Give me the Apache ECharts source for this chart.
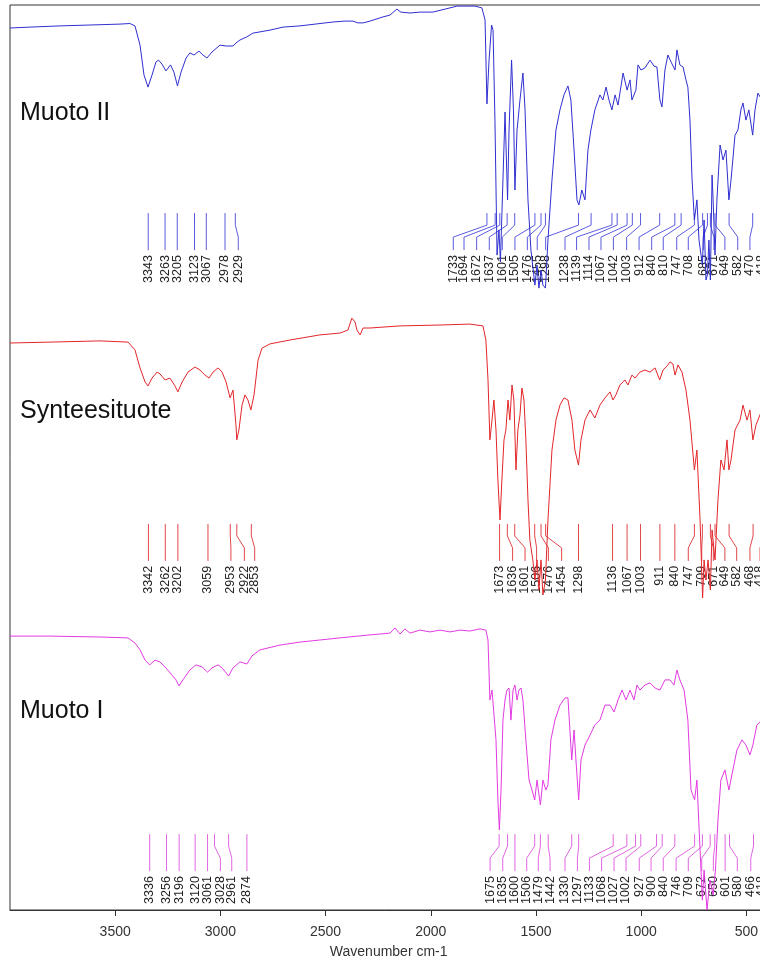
<!DOCTYPE html>
<html><head><meta charset="utf-8">
<script src="https://cdn.jsdelivr.net/npm/echarts@6/dist/echarts.min.js"></script>
<style>html,body{margin:0;padding:0;background:#fff}#c{width:760px;height:963px}</style>
</head><body><div id="c"></div>
<script>
// x tick labels
const xTicks = [500, 1000, 1500, 2000, 2500, 3000, 3500];
const panelNames = ['Muoto II', 'Synteesituote', 'Muoto I'];

// spectra: [wavenumber, transmittance-like value]
const muotoII = [[4000,94.0],[3905,94.3],[3762,94.7],[3620,95.0],[3477,95.3],[3430,95.5],[3406,94.7],[3382,88.3],[3363,78.3],[3344,74.3],[3325,78.3],[3306,82.7],[3294,83.3],[3278,82.0],[3259,79.7],[3237,81.7],[3221,79.3],[3204,74.7],[3187,79.3],[3163,84.0],[3145,85.7],[3125,85.0],[3102,86.3],[3083,85.0],[3064,84.0],[3040,86.0],[3002,88.3],[2973,88.0],[2940,88.0],[2926,89.0],[2907,90.0],[2876,91.0],[2845,92.3],[2764,93.3],[2702,94.3],[2622,94.7],[2465,96.0],[2408,96.3],[2370,96.3],[2346,95.7],[2322,95.7],[2289,96.3],[2227,97.7],[2194,98.3],[2161,100.3],[2142,99.3],[2099,99.0],[2051,99.3],[1990,99.3],[1932,100.3],[1875,101.3],[1790,101.3],[1757,100.7],[1742,96.7],[1733,68.7],[1723,83.3],[1711,95.0],[1704,93.3],[1695,63.3],[1685,18.3],[1676,26.7],[1669,16.0],[1657,43.3],[1647,66.0],[1635,36.7],[1628,60.0],[1616,83.3],[1607,66.7],[1600,40.0],[1590,60.0],[1576,70.0],[1562,79.0],[1552,66.7],[1538,36.7],[1524,20.0],[1505,8.3],[1495,15.0],[1486,7.3],[1476,13.3],[1467,8.3],[1455,7.3],[1443,23.3],[1424,43.3],[1405,60.0],[1386,66.7],[1367,71.7],[1348,74.7],[1334,70.0],[1319,53.3],[1305,36.7],[1296,35.0],[1282,40.0],[1267,36.7],[1253,53.3],[1239,60.0],[1220,66.7],[1196,71.7],[1182,70.0],[1167,74.3],[1153,70.0],[1139,66.7],[1124,71.7],[1110,68.3],[1086,79.0],[1067,73.3],[1053,76.7],[1044,70.0],[1025,73.3],[1015,81.7],[1001,80.0],[982,80.7],[958,83.3],[939,81.3],[925,81.0],[911,70.0],[901,67.7],[887,80.0],[873,85.0],[858,82.7],[849,83.3],[839,80.0],[830,86.7],[816,81.7],[801,81.0],[787,76.7],[778,74.3],[768,63.3],[758,43.3],[747,30.0],[735,36.7],[725,23.3],[709,15.0],[701,30.0],[692,10.0],[685,11.7],[678,23.3],[671,10.0],[663,45.0],[658,36.7],[649,18.3],[640,36.7],[625,55.0],[611,50.0],[597,53.3],[583,36.7],[573,43.3],[554,58.3],[540,60.0],[526,66.7],[516,69.0],[502,63.3],[488,66.7],[470,58.3],[459,66.7],[445,72.3],[426,70.0]];

const synteesituote = [[4000,89.0],[3810,89.3],[3572,89.7],[3439,89.3],[3406,86.7],[3382,80.7],[3358,76.0],[3344,74.7],[3325,77.3],[3301,79.3],[3287,78.7],[3263,76.7],[3240,77.3],[3216,74.7],[3202,72.7],[3182,76.0],[3154,79.3],[3121,81.0],[3097,80.0],[3073,78.3],[3054,77.3],[3035,79.3],[3011,80.7],[2992,79.3],[2973,76.0],[2954,70.7],[2940,73.3],[2926,61.7],[2922,56.7],[2912,60.0],[2897,68.3],[2883,71.7],[2869,70.0],[2855,66.7],[2840,71.7],[2821,83.3],[2802,87.3],[2764,88.7],[2669,90.0],[2527,91.7],[2432,92.3],[2394,93.3],[2375,97.3],[2360,96.0],[2351,93.3],[2336,91.7],[2322,94.0],[2289,94.0],[2146,94.7],[1956,95.0],[1814,95.3],[1752,94.7],[1738,90.0],[1728,76.7],[1719,56.7],[1709,63.3],[1700,70.0],[1690,60.0],[1681,43.3],[1671,30.0],[1662,43.3],[1652,56.7],[1643,60.0],[1633,70.0],[1624,63.3],[1614,75.0],[1605,70.0],[1595,46.7],[1586,60.0],[1576,65.0],[1567,74.0],[1557,70.0],[1548,56.7],[1538,36.7],[1529,23.3],[1515,16.7],[1505,10.0],[1495,16.7],[1486,6.7],[1476,16.7],[1467,5.0],[1455,10.0],[1443,30.0],[1424,53.3],[1405,63.3],[1386,68.3],[1367,70.7],[1348,70.0],[1329,63.3],[1315,53.3],[1298,48.3],[1286,56.7],[1267,63.3],[1243,66.7],[1220,64.0],[1196,68.3],[1172,70.7],[1148,72.7],[1134,70.0],[1120,71.7],[1101,75.0],[1077,76.7],[1063,75.0],[1044,78.3],[1029,77.3],[1006,79.3],[982,80.0],[958,79.3],[934,80.7],[912,76.7],[896,80.0],[877,81.3],[863,82.7],[849,82.0],[839,78.3],[825,81.7],[806,79.3],[787,73.3],[768,63.3],[747,46.7],[735,53.3],[720,30.0],[708,4.0],[701,16.7],[692,10.0],[682,16.7],[671,6.7],[663,26.7],[649,16.7],[635,36.7],[621,50.0],[606,46.7],[592,56.7],[583,46.7],[573,50.0],[554,60.0],[530,63.3],[516,68.3],[497,63.3],[483,66.7],[469,56.7],[454,61.7],[426,66.7]];

const muotoI = [[4000,91.3],[3810,91.3],[3572,91.0],[3439,90.7],[3406,89.0],[3382,86.7],[3358,83.3],[3336,81.7],[3311,83.3],[3287,82.7],[3259,80.7],[3230,78.3],[3211,76.7],[3197,74.7],[3178,76.7],[3145,80.0],[3116,81.7],[3087,81.0],[3061,79.3],[3040,80.7],[3011,81.7],[2992,80.7],[2961,78.0],[2940,80.7],[2907,82.7],[2874,82.0],[2850,84.7],[2812,86.7],[2717,88.3],[2622,89.3],[2432,90.7],[2289,91.7],[2194,92.3],[2170,94.0],[2146,92.0],[2123,93.7],[2099,92.3],[2051,93.3],[2004,92.7],[1956,93.3],[1909,92.7],[1861,93.3],[1814,93.0],[1766,93.7],[1738,93.3],[1728,90.0],[1719,70.0],[1709,73.3],[1700,73.3],[1690,56.7],[1681,36.7],[1674,26.7],[1666,40.0],[1657,63.3],[1647,70.0],[1638,73.3],[1628,74.0],[1619,63.3],[1609,73.3],[1600,75.0],[1590,70.0],[1581,73.3],[1571,74.0],[1562,70.0],[1548,56.7],[1533,43.3],[1519,40.0],[1506,36.7],[1495,43.3],[1479,35.0],[1467,43.3],[1453,40.0],[1443,41.7],[1429,56.7],[1410,63.3],[1386,68.3],[1362,70.7],[1348,70.7],[1330,50.0],[1319,60.0],[1310,50.0],[1297,36.7],[1286,50.0],[1267,55.0],[1243,58.3],[1220,61.7],[1196,63.3],[1172,68.3],[1148,68.3],[1129,66.0],[1110,70.0],[1091,73.3],[1072,70.0],[1053,73.3],[1034,70.0],[1020,75.0],[1006,73.3],[982,75.0],[958,75.7],[934,74.0],[911,73.3],[887,76.7],[863,76.7],[844,75.0],[830,80.0],[816,76.7],[796,73.3],[778,63.3],[763,40.0],[746,36.7],[735,43.3],[720,20.0],[709,3.3],[701,13.3],[687,0.0],[673,10.0],[658,5.0],[647,13.3],[635,30.0],[621,43.3],[602,46.7],[583,40.0],[564,46.7],[545,53.3],[521,56.7],[502,55.0],[483,51.7],[469,55.0],[450,61.7],[426,63.3]];

// peak picks: peak wavenumber and the wavenumber where its label sits
const peaksII = [3343,3263,3205,3123,3067,2978,2929,1733,1694,1672,1637,1601,1505,1476,1455,1298,1238,1139,1114,1067,1042,1003,912,840,810,747,708,685,671,649,582,470,418];
const labelsII = [3343,3263,3205,3123,3067,2978,2915,1893,1842,1782,1722,1660,1600,1541,1494,1454,1362,1307,1248,1191,1132,1069,1010,950,895,831,776,705,654,602,541,483,426];
const peaksS = [3342,3262,3202,3059,2953,2922,2853,1673,1636,1601,1506,1476,1454,1298,1136,1067,1003,911,840,747,709,671,649,582,468,418];
const labelsS = [3342,3262,3202,3059,2950,2886,2837,1673,1611,1552,1497,1441,1378,1298,1136,1067,1003,911,840,776,712,657,602,546,483,435];
const peaksI = [3336,3256,3196,3120,3061,3028,2961,2874,1675,1635,1600,1506,1479,1442,1330,1297,1133,1068,1027,1002,927,900,840,746,709,672,650,601,580,466,418];
const labelsI = [3336,3256,3196,3120,3061,3000,2946,2874,1718,1658,1600,1544,1489,1433,1362,1303,1246,1188,1129,1072,1009,953,895,834,776,712,657,601,543,479,426];

const FONT = '"Liberation Sans", Arial, Helvetica, sans-serif';
const panels = [
  {name: panelNames[0], data: muotoII, peaks: peaksII, labels: labelsII, offset: 200, annTop: 32.3, color: '#2f2fd0', lineColor: '#5b5be0'},
  {name: panelNames[1], data: synteesituote, peaks: peaksS, labels: labelsS, offset: 100, annTop: 28.7, color: '#e3262a', lineColor: '#e0474a'},
  {name: panelNames[2], data: muotoI, peaks: peaksI, labels: labelsI, offset: 0, annTop: 25.3, color: '#e23ae2', lineColor: '#e066e0'}
];

const chart = echarts.init(document.getElementById('c'), null, {renderer: 'canvas'});
const series = [];
panels.forEach(p => {
  series.push({
    type: 'line', data: p.data.map(d => [d[0], d[1] + p.offset]),
    showSymbol: false, symbol: 'none', lineStyle: {color: p.color, width: 1}, itemStyle: {color: p.color},
    animation: false, clip: true, z: 3
  });
  const annData = p.peaks.map((pk, i) => [pk, p.labels[i], p.annTop + p.offset]);
  series.push({
    type: 'custom', data: annData, animation: false, clip: false, z: 2,
    encode: {x: 0, y: 2},
    renderItem: function (params, api) {
      const a = api.coord([api.value(0), api.value(2)]);
      const b = api.coord([api.value(1), api.value(2)]);
      const x0 = a[0], x1 = b[0], y0 = a[1];
      return {type: 'group', children: [
        {type: 'polyline', shape: {points: [[x0, y0], [x0, y0 + 12], [x1, y0 + 24], [x1, y0 + 37]]},
         style: {stroke: p.lineColor, lineWidth: 1, fill: null}},
        {type: 'text', x: x1, y: y0 + 42, rotation: Math.PI / 2,
         style: {text: String(api.value(0)), align: 'right', verticalAlign: 'middle',
                 fontSize: 12.5, fontFamily: FONT, fill: '#222'}}
      ]};
    }
  });
});

chart.setOption({
  animation: false,
  grid: {left: 10, top: 5, width: 757.4, height: 905, containLabel: false, outerBoundsMode: 'none',
         show: true, borderColor: '#333', borderWidth: 1, backgroundColor: 'transparent'},
  xAxis: {
    type: 'value', min: 400, max: 4000, inverse: true,
    axisLine: {show: true, lineStyle: {color: '#333', width: 1}},
    axisTick: {show: true, length: 6, customValues: xTicks, lineStyle: {color: '#333'}},
    axisLabel: {show: true, customValues: xTicks, formatter: v => String(v), fontSize: 14, fontFamily: FONT, color: '#333', margin: 15},
    splitLine: {show: false},
    name: 'Wavenumber cm-1', nameLocation: 'middle', nameGap: 35,
    nameTextStyle: {fontSize: 14, fontFamily: FONT, color: '#333'}
  },
  yAxis: {type: 'value', min: 0, max: 905 / 3, show: false, splitLine: {show: false}},
  graphic: [
    {type: 'text', left: 20, top: 101, style: {text: panelNames[0], fontSize: 25, fontFamily: FONT, fill: '#111'}},
    {type: 'text', left: 20, top: 399, style: {text: panelNames[1], fontSize: 25, fontFamily: FONT, fill: '#111'}},
    {type: 'text', left: 20, top: 699, style: {text: panelNames[2], fontSize: 25, fontFamily: FONT, fill: '#111'}}
  ],
  series: series
});
</script></body></html>
